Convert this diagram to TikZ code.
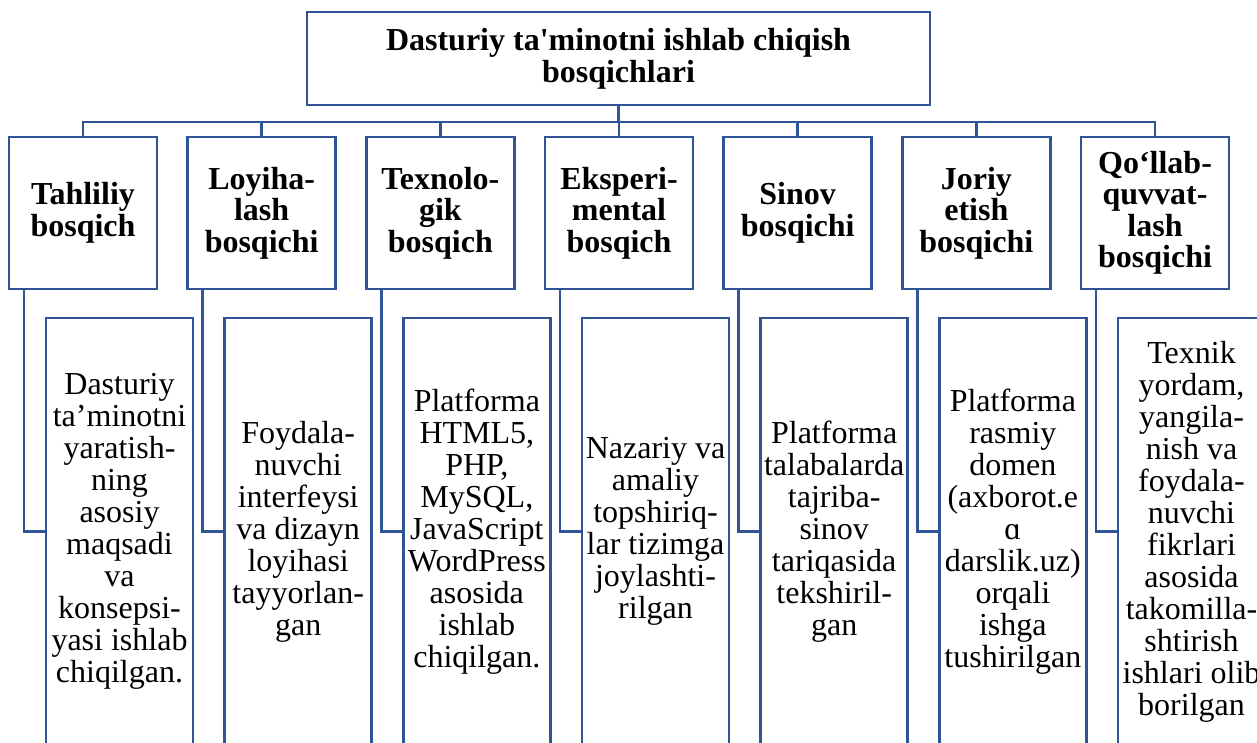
\documentclass[tikz,border=0pt]{standalone}
\usepackage{fontspec}
\setmainfont{Liberation Serif}[Ligatures=TeXOff]
\usetikzlibrary{positioning}
\definecolor{boxblue}{HTML}{2F5597}

\tikzset{
	frame/.style={draw=boxblue, line width=2.7pt, fill=white, outer sep=0pt, inner sep=0pt, align=center},
	stage/.style={frame, minimum width=148pt, minimum height=152pt,
			font=\fontsize{32}{31.5}\selectfont\bfseries},
	desc/.style={frame, minimum width=147pt, minimum height=427pt, anchor=north west,
			font=\fontsize{32}{32}\selectfont},
	link/.style={draw=boxblue, line width=2.7pt}
}

\begin{document}
\begin{tikzpicture}[x=1pt, y=-1pt]
	\useasboundingbox (0,0) rectangle (1257,743);
	\clip (0,0) rectangle (1257,743);

	% top box
	\node[frame, minimum width=623pt, minimum height=93pt, font=\fontsize{32}{32}\selectfont\bfseries] (root) at (618.5,58.5) {Dasturiy ta'minotni ishlab chiqish\\bosqichlari};
	\coordinate (bus) at (618.5,122);

	% stages
	\node[stage] (tahlil) at (83,213) {Tahliliy\\bosqich};
	\node[stage, right=30.67pt of tahlil] (loyiha) {Loyiha-\\lash\\bosqichi};
	\node[stage, right=30.67pt of loyiha] (texno) {Texnolo-\\gik\\bosqich};
	\node[stage, right=30.67pt of texno] (eksper) {Eksperi-\\mental\\bosqich};
	\node[stage, right=30.67pt of eksper] (sinov) {Sinov\\bosqichi};
	\node[stage, right=30.67pt of sinov] (joriy) {Joriy\\etish\\bosqichi};
	\node[stage, right=30.67pt of joriy] (qollab) {Qo‘llab-\\quvvat-\\lash\\bosqichi};

	% descriptions
	\node[desc, below right=29pt and 37pt of tahlil.south west] (tahlil-d) {Dasturiy\\ta’minotni\\yaratish-\\ning\\asosiy\\maqsadi\\va\\konsepsi-\\yasi ishlab\\chiqilgan.};
	\node[desc, below right=29pt and 37pt of loyiha.south west] (loyiha-d) {Foydala-\\nuvchi\\interfeysi\\va dizayn\\loyihasi\\tayyorlan-\\gan};
	\node[desc, below right=29pt and 37pt of texno.south west] (texno-d) {Platforma\\HTML5,\\PHP,\\MySQL,\\JavaScript\\WordPress\\asosida\\ishlab\\chiqilgan.};
	\node[desc, below right=29pt and 37pt of eksper.south west] (eksper-d) {Nazariy va\\amaliy\\topshiriq-\\lar tizimga\\joylashti-\\rilgan};
	\node[desc, below right=29pt and 37pt of sinov.south west] (sinov-d) {Platforma\\talabalarda\\tajriba-\\sinov\\tariqasida\\tekshiril-\\gan};
	\node[desc, below right=29pt and 37pt of joriy.south west] (joriy-d) {Platforma\\rasmiy\\domen\\(axborot.e\\ɑ\\darslik.uz)\\orqali\\ishga\\tushirilgan};
	\node[desc, below right=29pt and 37pt of qollab.south west] (qollab-d) {Texnik\\yordam,\\yangila-\\nish va\\foydala-\\nuvchi\\fikrlari\\asosida\\takomilla-\\shtirish\\ishlari olib\\borilgan};

	% connectors
	\draw[link] (root) -- (bus);
	\foreach \s in {tahlil, loyiha, texno, eksper, sinov, joriy, qollab} {
		\draw[link] (\s.north) |- (bus);
		\draw[link] ([xshift=15pt]\s.south west) |- (\s-d.west);
	}
\end{tikzpicture}
\end{document}
